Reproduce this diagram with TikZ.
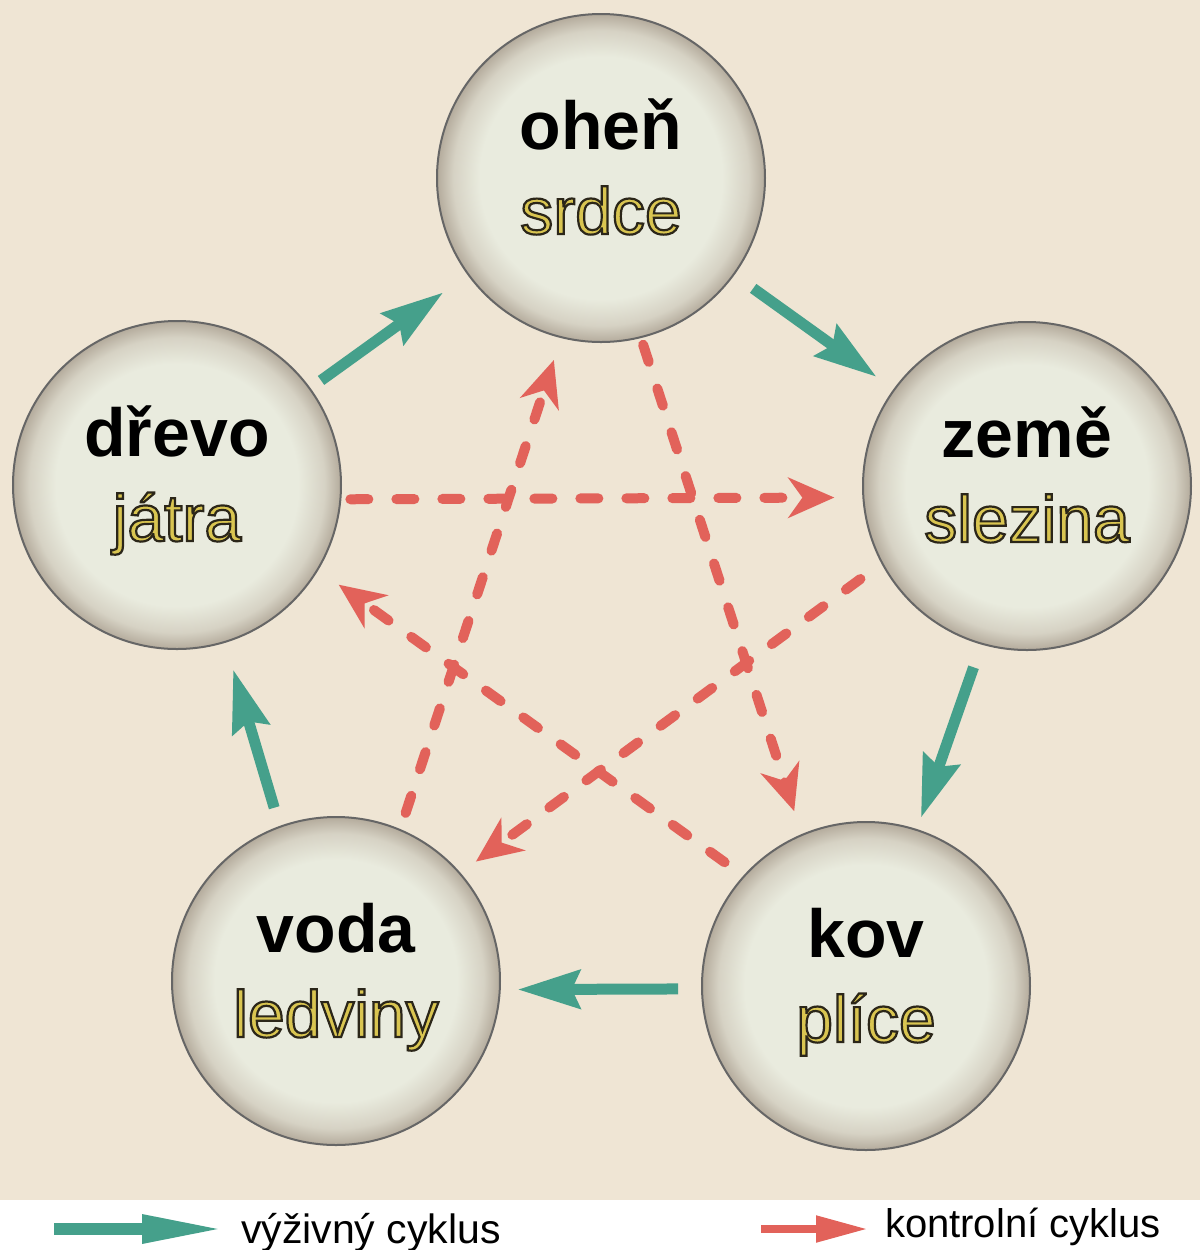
\documentclass[tikz,border=0pt]{standalone}
\usepackage{fontspec}
\setmainfont{Liberation Sans}
\usetikzlibrary{arrows.meta}
\definecolor{pozadi}{HTML}{EFE5D4}
\definecolor{kruhin}{HTML}{E9EBDE}
\definecolor{kruhmid}{HTML}{D6D2C4}
\definecolor{kruhout}{HTML}{B4AB9C}
\definecolor{zelena}{HTML}{45A08B}
\definecolor{cervena}{HTML}{E2625A}
\definecolor{zluta}{HTML}{D9C551}
\pgfdeclareradialshading{kruhstin}{\pgfpoint{0bp}{0bp}}{color(0bp)=(kruhin); color(18.5bp)=(kruhin); color(22.5bp)=(kruhmid); color(25bp)=(kruhout); color(50bp)=(kruhout)}
\newcommand{\obrysem}[1]{\special{pdf:literal direct 0.17 0.15 0.10 RG 1.1 w 2 Tr}#1\special{pdf:literal direct 0 Tr}}
\newcommand{\dvojice}[2]{\rule{0pt}{32pt}\bfseries #1\\{\mdseries\fontsize{33}{42.5}\selectfont\color{zluta}\obrysem{#2}}\rule[-18.5pt]{0pt}{18.5pt}}
\tikzstyle{prvek}=[circle, draw=black!60, line width=1pt, shading=kruhstin, minimum size=164pt, inner sep=0pt, outer sep=0pt, align=center, font=\fontsize{34}{42.5}\selectfont]
\tikzstyle{vyziva}=[draw=zelena, line width=5.5pt, -{Stealth[length=31pt,width=19pt,inset=4pt]}]
\tikzstyle{kontrola}=[draw=cervena, line width=5pt, line cap=round, dash pattern=on 9pt off 14pt, -{Stealth[length=23pt,width=20pt,inset=7pt]}]

\begin{document}
\begin{tikzpicture}[x=0.5pt, y=-0.5pt]
  \useasboundingbox (0,0) rectangle (1200,1250);
  \fill[pozadi] (0,0) rectangle (1200,1200);
  \fill[white] (0,1200) rectangle (1200,1250);
  \node[prvek] (ohen) at (601,178) {\dvojice{oheň}{srdce}};
  \node[prvek] (drevo) at (177,485) {\dvojice{dřevo}{játra}};
  \node[prvek] (zeme) at (1027,486) {\dvojice{země}{slezina}};
  \node[prvek] (kov) at (866,986) {\dvojice{kov}{plíce}};
  \node[prvek] (voda) at (336,981) {\dvojice{voda}{ledviny}};
  % vyzivny cyklus
  \draw[vyziva, shorten <=7pt, shorten >=15.5pt] (drevo.36.8) -- (ohen.216);
  \draw[vyziva, shorten <=12pt, shorten >=11pt] (ohen.-36.6) -- (zeme.144.6);
  \draw[vyziva, shorten <=12.5pt, shorten >=6.5pt] (zeme.-106.6) -- (kov.72.3);
  \draw[vyziva, shorten <=12pt, shorten >=9pt] (kov.181.8) -- (voda.-3.5);
  \draw[vyziva, shorten <=10pt, shorten >=14.5pt] (voda.110.3) -- (drevo.-73.4);
  % kontrolni cyklus
  \draw[kontrola, shorten <=4pt, shorten >=12.5pt] (ohen.-76.9) -- (kov.113.7);
  \draw[kontrola, shorten <=12pt, shorten >=13pt] (kov.138.7) -- (drevo.-31);
  \draw[kontrola, shorten <=5pt, shorten >=14.5pt] (drevo.-5.6) -- (zeme.184.8);
  \draw[kontrola, shorten <=13.5pt, shorten >=10pt] (zeme.208.9) -- (voda.41.9);
  \draw[kontrola, shorten <=9pt, shorten >=12pt] (voda.67.8) -- (ohen.-104.2);
  % legenda
  \node[anchor=base west, font=\fontsize{20.5}{25}\selectfont] (vyzt) at (234,1243) {výživný cyklus};
  \coordinate (vyzs) at (54,1229);
  \draw[zelena, line width=6pt, shorten >=4pt, -{Triangle[length=42pt,width=13pt]}] (vyzs) -- (vyzt.west |- vyzs);
  \node[anchor=base west, font=\fontsize{20}{24}\selectfont] (kont) at (878,1237) {kontrolní cyklus};
  \coordinate (konts) at (761,1229);
  \draw[cervena, line width=4pt, shorten >=5pt, -{Triangle[length=26pt,width=12.5pt]}] (konts) -- (kont.west |- konts);
\end{tikzpicture}
\end{document}
